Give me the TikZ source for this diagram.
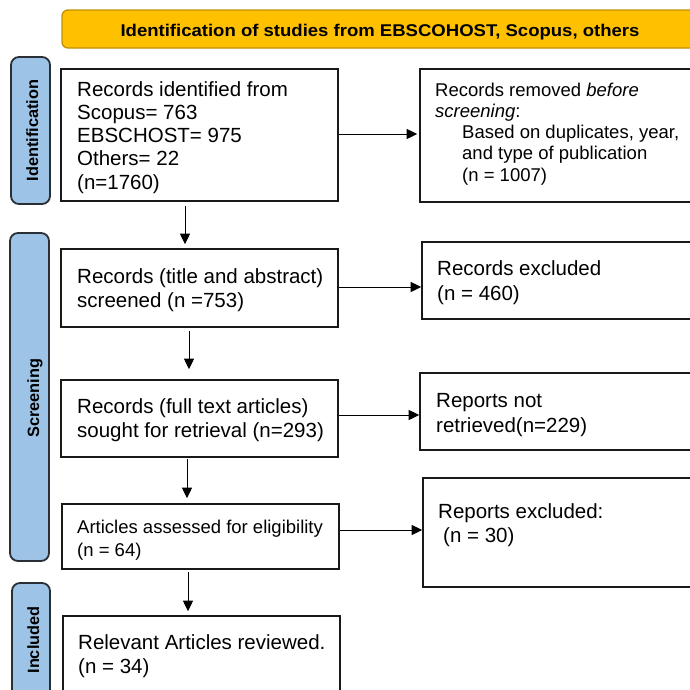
\documentclass[tikz,border=0pt]{standalone}
\usepackage{fontspec}
\setmainfont{Liberation Sans}
\usetikzlibrary{arrows.meta}
\definecolor{hdrfill}{HTML}{FFC000}
\definecolor{hdrline}{HTML}{C09000}
\definecolor{sidefill}{HTML}{9DC3E6}
\definecolor{sideline}{HTML}{2A2E35}
\newcommand{\mylines}[1]{\begin{tabular}[t]{@{}l@{}}#1\end{tabular}}
\begin{document}
\begin{tikzpicture}[x=1pt,y=-1pt,
  flowbox/.style={draw=black!90, line width=1.6pt, fill=white, inner sep=0pt, rectangle},
  hdrbox/.style={draw=hdrline, line width=1.3pt, fill=hdrfill, rounded corners=6pt, inner sep=0pt, rectangle},
  sidebox/.style={draw=sideline, line width=1.8pt, fill=sidefill, rounded corners=8pt, inner sep=0pt, rectangle},
  sidelbl/.style={rotate=90, anchor=base, inner sep=0pt, font=\fontsize{16.3}{19}\selectfont\bfseries},
  bigtxt/.style={anchor=base west, inner sep=0pt, font=\fontsize{20.5}{24}\selectfont},
  smalltxt/.style={anchor=base west, inner sep=0pt, font=\fontsize{18.5}{21.25}\selectfont},
  arr/.style={draw=black, line width=0.9pt, -{Triangle[length=10.5pt,width=10pt]}}]
\useasboundingbox (0,0) rectangle (690,689);
\clip (0,0) rectangle (690,689);

% header
\node[hdrbox, minimum width=636pt, minimum height=38pt] (hdr) at (380,29) {};
\node[anchor=base, inner sep=0pt, xscale=1.09, font=\fontsize{17}{20}\selectfont\bfseries] (hdrt) at (380,36.5) {Identification of studies from EBSCOHOST, Scopus, others};

% side bars
\node[sidebox, minimum width=39pt, minimum height=147pt] (s1) at (30.5,130.5) {};
\node[sidebox, minimum width=39pt, minimum height=328pt] (s2) at (29.5,397) {};
\node[sidebox, minimum width=38pt, minimum height=117pt] (s3) at (31,641.5) {};
\node[sidelbl] (l1) at (38,130.5) {Identification};
\node[sidelbl] (l2) at (39,398) {Screening};
\node[sidelbl] (l3) at (39,640) {Included};

% left boxes
\node[flowbox, minimum width=277pt, minimum height=132pt] (b1) at (199.5,135) {};
\node[flowbox, minimum width=277pt, minimum height=78pt] (b2) at (199.5,288) {};
\node[flowbox, minimum width=277pt, minimum height=77pt] (b3) at (199.5,418.5) {};
\node[flowbox, minimum width=277pt, minimum height=65pt] (b4) at (200.5,536.5) {};
\node[flowbox, minimum width=277pt, minimum height=84pt] (b5) at (201.5,658) {};

% right boxes
\node[flowbox, minimum width=310pt, minimum height=133pt] (r1) at (575,135.5) {};
\node[flowbox, minimum width=308pt, minimum height=77pt] (r2) at (576,280.5) {};
\node[flowbox, minimum width=310pt, minimum height=77pt] (r3) at (575,411.5) {};
\node[flowbox, minimum width=307pt, minimum height=109pt] (r4) at (576.5,532.5) {};

% texts
\node[bigtxt, font=\fontsize{20.5}{23.25}\selectfont] (tb1) at (77,96) {\mylines{Records identified from\\Scopus= 763\\EBSCHOST= 975\\Others= 22\\(n=1760)}};
\node[smalltxt] (tr1) at (435,96) {\mylines{Records removed \textit{before}\\\textit{screening}:\\\hspace*{27pt}Based on duplicates, year,\\\hspace*{27pt}and type of publication\\\hspace*{27pt}(n = 1007)}};
\node[bigtxt] (tb2) at (77,283) {\mylines{Records (title and abstract)\\screened (n =753)}};
\node[bigtxt, font=\fontsize{20.5}{25}\selectfont] (tr2) at (437,275) {\mylines{Records excluded\\(n = 460)}};
\node[bigtxt] (tb3) at (77,413) {\mylines{Records (full text articles)\\sought for retrieval (n=293)}};
\node[bigtxt, font=\fontsize{20.5}{25}\selectfont] (tr3) at (436,407) {\mylines{Reports not\\retrieved(n=229)}};
\node[smalltxt, font=\fontsize{18.5}{23}\selectfont] (tb4) at (77,533) {\mylines{Articles assessed for eligibility\\(n = 64)}};
\node[bigtxt] (tr4) at (438,518) {\mylines{Reports excluded:\\\hspace*{5pt}(n = 30)}};
\node[bigtxt] (tb5) at (78,649) {\mylines{Relevant Articles reviewed.\\(n = 34)}};

% vertical connectors
\coordinate (v1) at ([xshift=-14.5pt]b1.south);
\coordinate (v2) at ([xshift=-10.5pt]b2.south);
\coordinate (v3) at ([xshift=-12.5pt]b3.south);
\coordinate (v4) at ([xshift=-12.5pt]b4.south);
\draw[arr, shorten <=4pt, shorten >=4pt] (v1) -- (v1 |- b2.north);
\draw[arr, shorten <=3pt, shorten >=10pt] (v2) -- (v2 |- b3.north);
\draw[arr, shorten <=1pt, shorten >=5pt] (v3) -- (v3 |- b4.north);
\draw[arr, shorten <=2pt, shorten >=4pt] (v4) -- (v4 |- b5.north);

% horizontal connectors
\coordinate (h1) at ([yshift=1pt]b1.east);
\coordinate (h2) at ([yshift=1pt]b2.east);
\coordinate (h3) at ([yshift=3.5pt]b3.east);
\coordinate (h4) at ([yshift=6.5pt]b4.east);
\draw[arr, shorten >=2pt] (h1) -- (h1 -| r1.west);
\draw[arr] (h2) -- (h2 -| r2.west);
\draw[arr] (h3) -- (h3 -| r3.west);
\draw[arr] (h4) -- (h4 -| r4.west);
\end{tikzpicture}
\end{document}
